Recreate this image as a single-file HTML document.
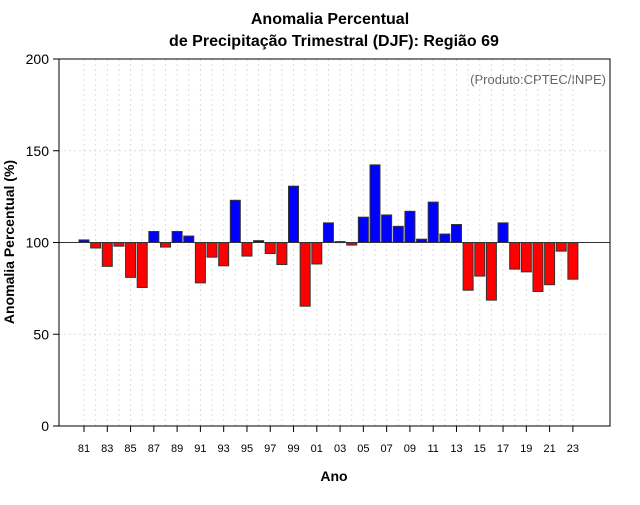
<!DOCTYPE html>
<html><head><meta charset="utf-8"><style>
body{margin:0;background:#fff;font-family:"Liberation Sans",sans-serif}
</style></head><body>
<svg id="chart" width="640" height="500" xmlns="http://www.w3.org/2000/svg">
<text x="330" y="24" text-anchor="middle" font-size="16" font-weight="bold">Anomalia Percentual</text>
<text x="334" y="46" text-anchor="middle" font-size="16" font-weight="bold">de Precipitação Trimestral (DJF): Região 69</text>
<text x="606" y="84" text-anchor="end" font-size="13" fill="#666">(Produto:CPTEC/INPE)</text>
<text x="334" y="481" text-anchor="middle" font-size="14" font-weight="bold">Ano</text>
<text transform="translate(14,242) rotate(-90)" text-anchor="middle" font-size="14" font-weight="bold">Anomalia Percentual (%)</text>
<g id="grid"></g><g id="bars"></g><g id="axes"></g>
</svg>
<script>
const years=[1981,1982,1983,1984,1985,1986,1987,1988,1989,1990,1991,1992,1993,1994,1995,1996,1997,1998,1999,2000,2001,2002,2003,2004,2005,2006,2007,2008,2009,2010,2011,2012,2013,2014,2015,2016,2017,2018,2019,2020,2021,2022,2023];
const values=[101.4,97,87,98,81,75.5,106,97.5,106,103.5,78,92,87.3,123,92.6,101,94,88,130.7,65.3,88.3,110.7,100.5,98.6,113.8,142.3,115,108.8,117,101.8,122,104.6,109.8,74,81.7,68.6,110.7,85.5,84,73.3,77,95.3,80];
const yTicks=[0,50,100,150,200];
const xTickYears=[1981,1983,1985,1987,1989,1991,1993,1995,1997,1999,2001,2003,2005,2007,2009,2011,2013,2015,2017,2019,2021,2023];
const NS="http://www.w3.org/2000/svg";
const L=59,R=610,T=59,B=426;
const y=v=>B-(v/200)*(B-T);
const x=yr=>84+(yr-1981)*11.64;
function mk(tag,attrs,parent){const e=document.createElementNS(NS,tag);for(const k in attrs)e.setAttribute(k,attrs[k]);parent.appendChild(e);return e;}
const grid=document.getElementById('grid'),bars=document.getElementById('bars'),axes=document.getElementById('axes');
years.forEach(yr=>{const g=mk('line',{x1:x(yr),x2:x(yr),y1:T,y2:B,stroke:'#ddd','stroke-dasharray':'2,3'},grid);

});
yTicks.forEach(t=>{if(t===0||t===100)return;const g=mk('line',{x1:L,x2:R,y1:y(t),y2:y(t),stroke:'#ddd','stroke-dasharray':'2,3'},grid);

});
years.forEach((yr,i)=>{const v=values[i];const top=Math.min(y(v),y(100)),h=Math.abs(y(v)-y(100));
const r=mk('rect',{x:x(yr)-5,y:top,width:10,height:Math.max(h,1),fill:v>=100?'#0000ff':'#ff0000',stroke:'#333','stroke-width':1},bars);

});
const base=mk('line',{x1:L,x2:R,y1:y(100),y2:y(100),stroke:'#333','stroke-width':1},axes);


const box=mk('rect',{x:L,y:T,width:R-L,height:B-T,fill:'none',stroke:'#000','stroke-width':1},axes);


yTicks.forEach(t=>{mk('line',{x1:L-6,x2:L,y1:y(t),y2:y(t),stroke:'#000'},axes);
const tx=mk('text',{x:L-10,y:y(t)+5,'text-anchor':'end','font-size':14},axes);tx.textContent=t;

});
xTickYears.forEach(yr=>{mk('line',{x1:x(yr),x2:x(yr),y1:B,y2:B+6,stroke:'#000'},axes);
const tx=mk('text',{x:x(yr),y:B+26,'text-anchor':'middle','font-size':11},axes);tx.textContent=String(yr%100).padStart(2,'0');

});
</script>
</body></html>
